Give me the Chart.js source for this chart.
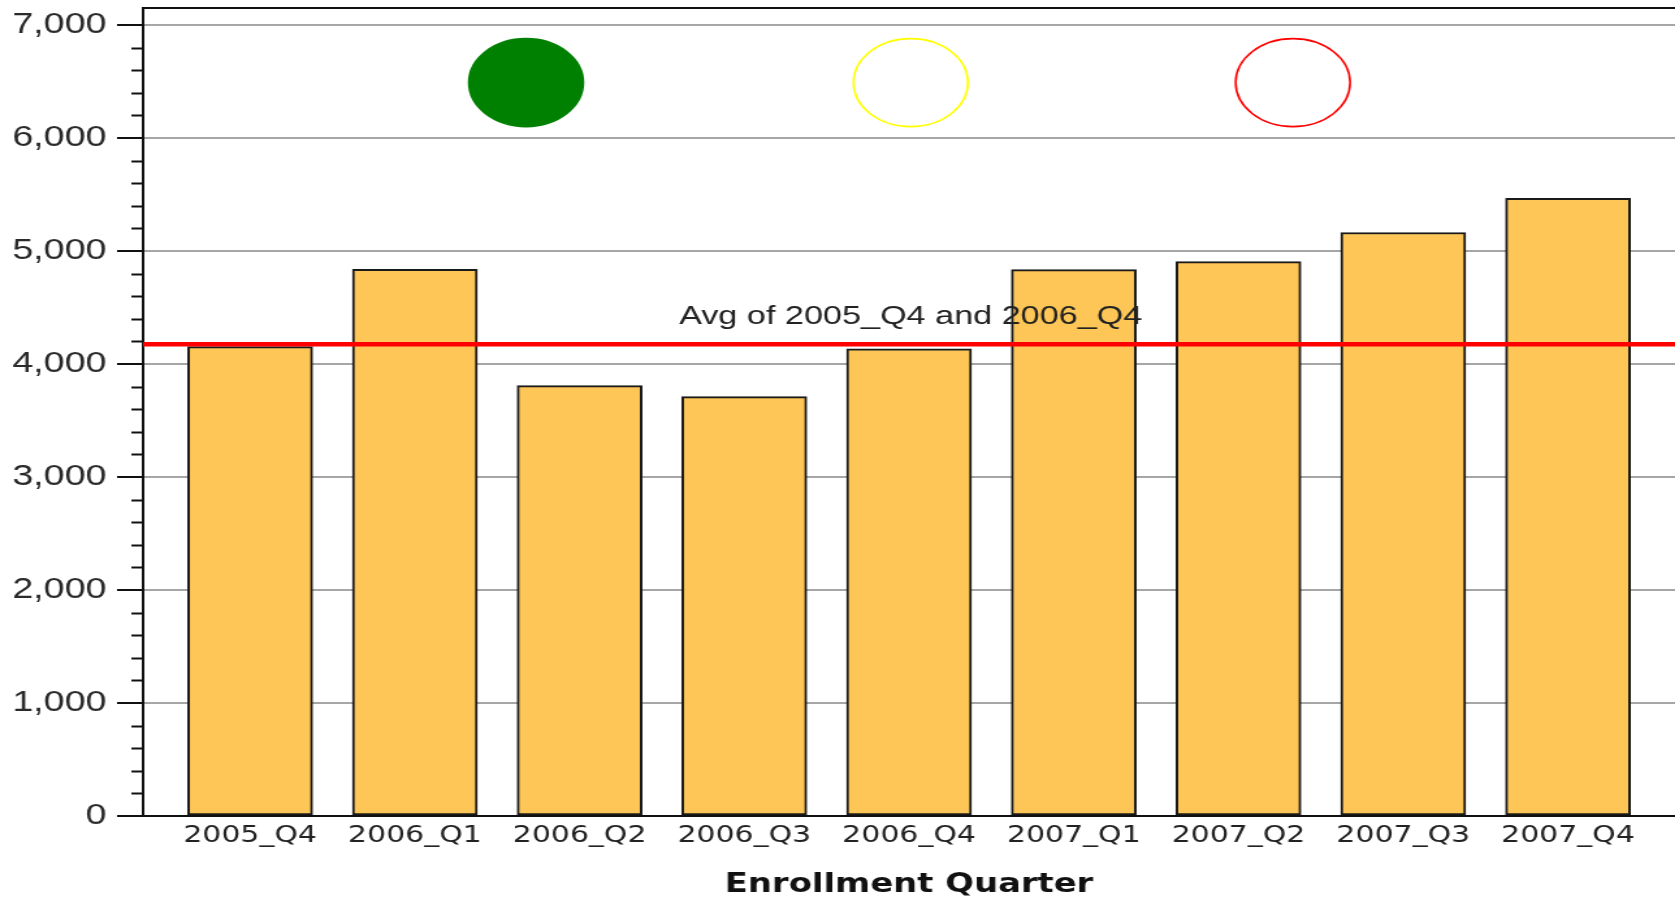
<!DOCTYPE html>
<html>
<head>
<meta charset="utf-8">
<title>Enrollment by Quarter</title>
<script src="https://cdn.jsdelivr.net/npm/chart.js@4.4.1/dist/chart.umd.min.js"></script>
<style>
    html, body { margin: 0; padding: 0; background: #fff; overflow: hidden; }
    /* the source picture is stretched sideways, so the chart is drawn narrower and scaled */
    #wrap { width: 1288px; height: 898px; transform: scaleX(1.3005); transform-origin: 0 0; }
</style>
</head>
<body>
<div id="wrap"><canvas id="enrollChart" width="1288" height="898"></canvas></div>
<script>
// Quarters on the x axis
const quarters = ['2005_Q4', '2006_Q1', '2006_Q2', '2006_Q3', '2006_Q4',
                  '2007_Q1', '2007_Q2', '2007_Q3', '2007_Q4'];

// Enrollment per quarter
const enrollment = [4153, 4838, 3808, 3711, 4133, 4835, 4905, 5163, 5465];

// Reference line
const avgValue = 4175;
const avgLabel = 'Avg of 2005_Q4 and 2006_Q4';

// Stoplight markers across the top
const lightX = [1.675, 4.01, 6.33];
const lightY = [6490, 6490, 6490];
const lightFill = ['#008000', 'rgba(0,0,0,0)', 'rgba(0,0,0,0)'];
const lightBorder = ['#008000', '#ffff00', '#ff0000'];

// Axis ranges and ticks
const xMin = -0.65;
const xMax = 8.65;
const yMax = 7150;
const yStep = 200;
const yMajor = 1000;

// Draws the frame top, the short minor ticks and the reference line label
const extrasPlugin = {
    id: 'extras',
    afterDatasetsDraw(chart) {
        const ctx = chart.ctx;
        const area = chart.chartArea;
        const y = chart.scales.y;
        const x = chart.scales.x;

        ctx.save();
        ctx.strokeStyle = '#111';
        ctx.lineWidth = 2;

        // top edge of the plot frame
        ctx.beginPath();
        ctx.moveTo(area.left, area.top);
        ctx.lineTo(area.right, area.top);
        ctx.stroke();

        // minor tick marks
        y.ticks.forEach(t => {
            if (t.value % yMajor === 0) return;
            const py = Math.round(y.getPixelForValue(t.value)) + 0.5;
            ctx.beginPath();
            ctx.moveTo(area.left - 9, py);
            ctx.lineTo(area.left, py);
            ctx.stroke();
        });

        // label above the average line
        ctx.fillStyle = '#222';
        ctx.font = '26.3px "Liberation Sans", Arial, sans-serif';
        ctx.textAlign = 'center';
        ctx.textBaseline = 'alphabetic';
        ctx.fillText(avgLabel, x.getPixelForValue(4.01), y.getPixelForValue(avgValue) - 20);
        ctx.restore();
    }
};

function buildChart() {
    const ctx = document.getElementById('enrollChart').getContext('2d');

    new Chart(ctx, {
        type: 'bar',
        plugins: [extrasPlugin],
        data: {
            datasets: [
                {
                    type: 'line',
                    label: avgLabel,
                    data: [{ x: xMin, y: avgValue }, { x: xMax, y: avgValue }],
                    borderColor: '#ff0000',
                    borderWidth: 4.5,
                    pointRadius: 0,
                    order: 0
                },
                {
                    type: 'scatter',
                    label: 'Status',
                    data: lightX.map((v, i) => ({ x: v, y: lightY[i] })),
                    pointStyle: 'circle',
                    pointRadius: 44,
                    backgroundColor: lightFill,
                    borderColor: lightBorder,
                    borderWidth: 1.6,
                    order: 1
                },
                {
                    type: 'bar',
                    label: 'Enrollment',
                    data: enrollment.map((v, i) => ({ x: i, y: v })),
                    backgroundColor: '#fec656',
                    borderColor: '#1a1a1a',
                    borderWidth: 2,
                    barThickness: 96,
                    borderSkipped: false,
                    order: 2
                }
            ]
        },
        options: {
            responsive: false,
            animation: false,
            devicePixelRatio: 1,
            layout: { autoPadding: false, padding: { top: 8, left: 0, right: 0, bottom: 0 } },
            plugins: {
                legend: { display: false },
                tooltip: { enabled: false }
            },
            scales: {
                x: {
                    type: 'linear',
                    min: xMin,
                    max: xMax,
                    offset: false,
                    afterBuildTicks: scale => {
                        scale.ticks = quarters.map((q, i) => ({ value: i }));
                    },
                    afterFit: scale => {
                        scale.height = 82;
                        scale.paddingLeft = 0;
                        scale.paddingRight = 0;
                    },
                    grid: { display: false, drawTicks: false },
                    border: { display: true, color: '#111', width: 2 },
                    ticks: {
                        autoSkip: false,
                        maxRotation: 0,
                        padding: 6,
                        color: '#222',
                        font: { family: '"DejaVu Sans", Verdana, sans-serif', size: 23 },
                        callback: value => quarters[value]
                    },
                    title: {
                        display: true,
                        text: 'Enrollment Quarter',
                        color: '#111',
                        padding: { top: 0, bottom: -3 },
                        font: { family: '"DejaVu Sans", Verdana, sans-serif', size: 26, weight: 'bold' }
                    }
                },
                y: {
                    min: 0,
                    max: yMax,
                    afterFit: scale => {
                        scale.width = 110;
                        scale.paddingTop = 0;
                        scale.paddingBottom = 0;
                    },
                    grid: {
                        color: c => (c.tick && c.tick.value % yMajor === 0) ? '#a6a6a6' : 'rgba(0,0,0,0)',
                        lineWidth: 2,
                        tickLength: 20,
                        tickColor: c => (c.tick && c.tick.value % yMajor === 0) ? '#111' : 'rgba(0,0,0,0)',
                        tickWidth: 2
                    },
                    border: { display: true, color: '#111', width: 2 },
                    ticks: {
                        stepSize: yStep,
                        includeBounds: false,
                        autoSkip: false,
                        padding: 8,
                        color: '#2a2a2a',
                        font: { family: '"Liberation Sans", Arial, sans-serif', size: 29 },
                        callback: value => value % yMajor === 0 ? value.toLocaleString('en-US') : ''
                    }
                }
            }
        }
    });
}

document.addEventListener('DOMContentLoaded', buildChart);
</script>
</body>
</html>
